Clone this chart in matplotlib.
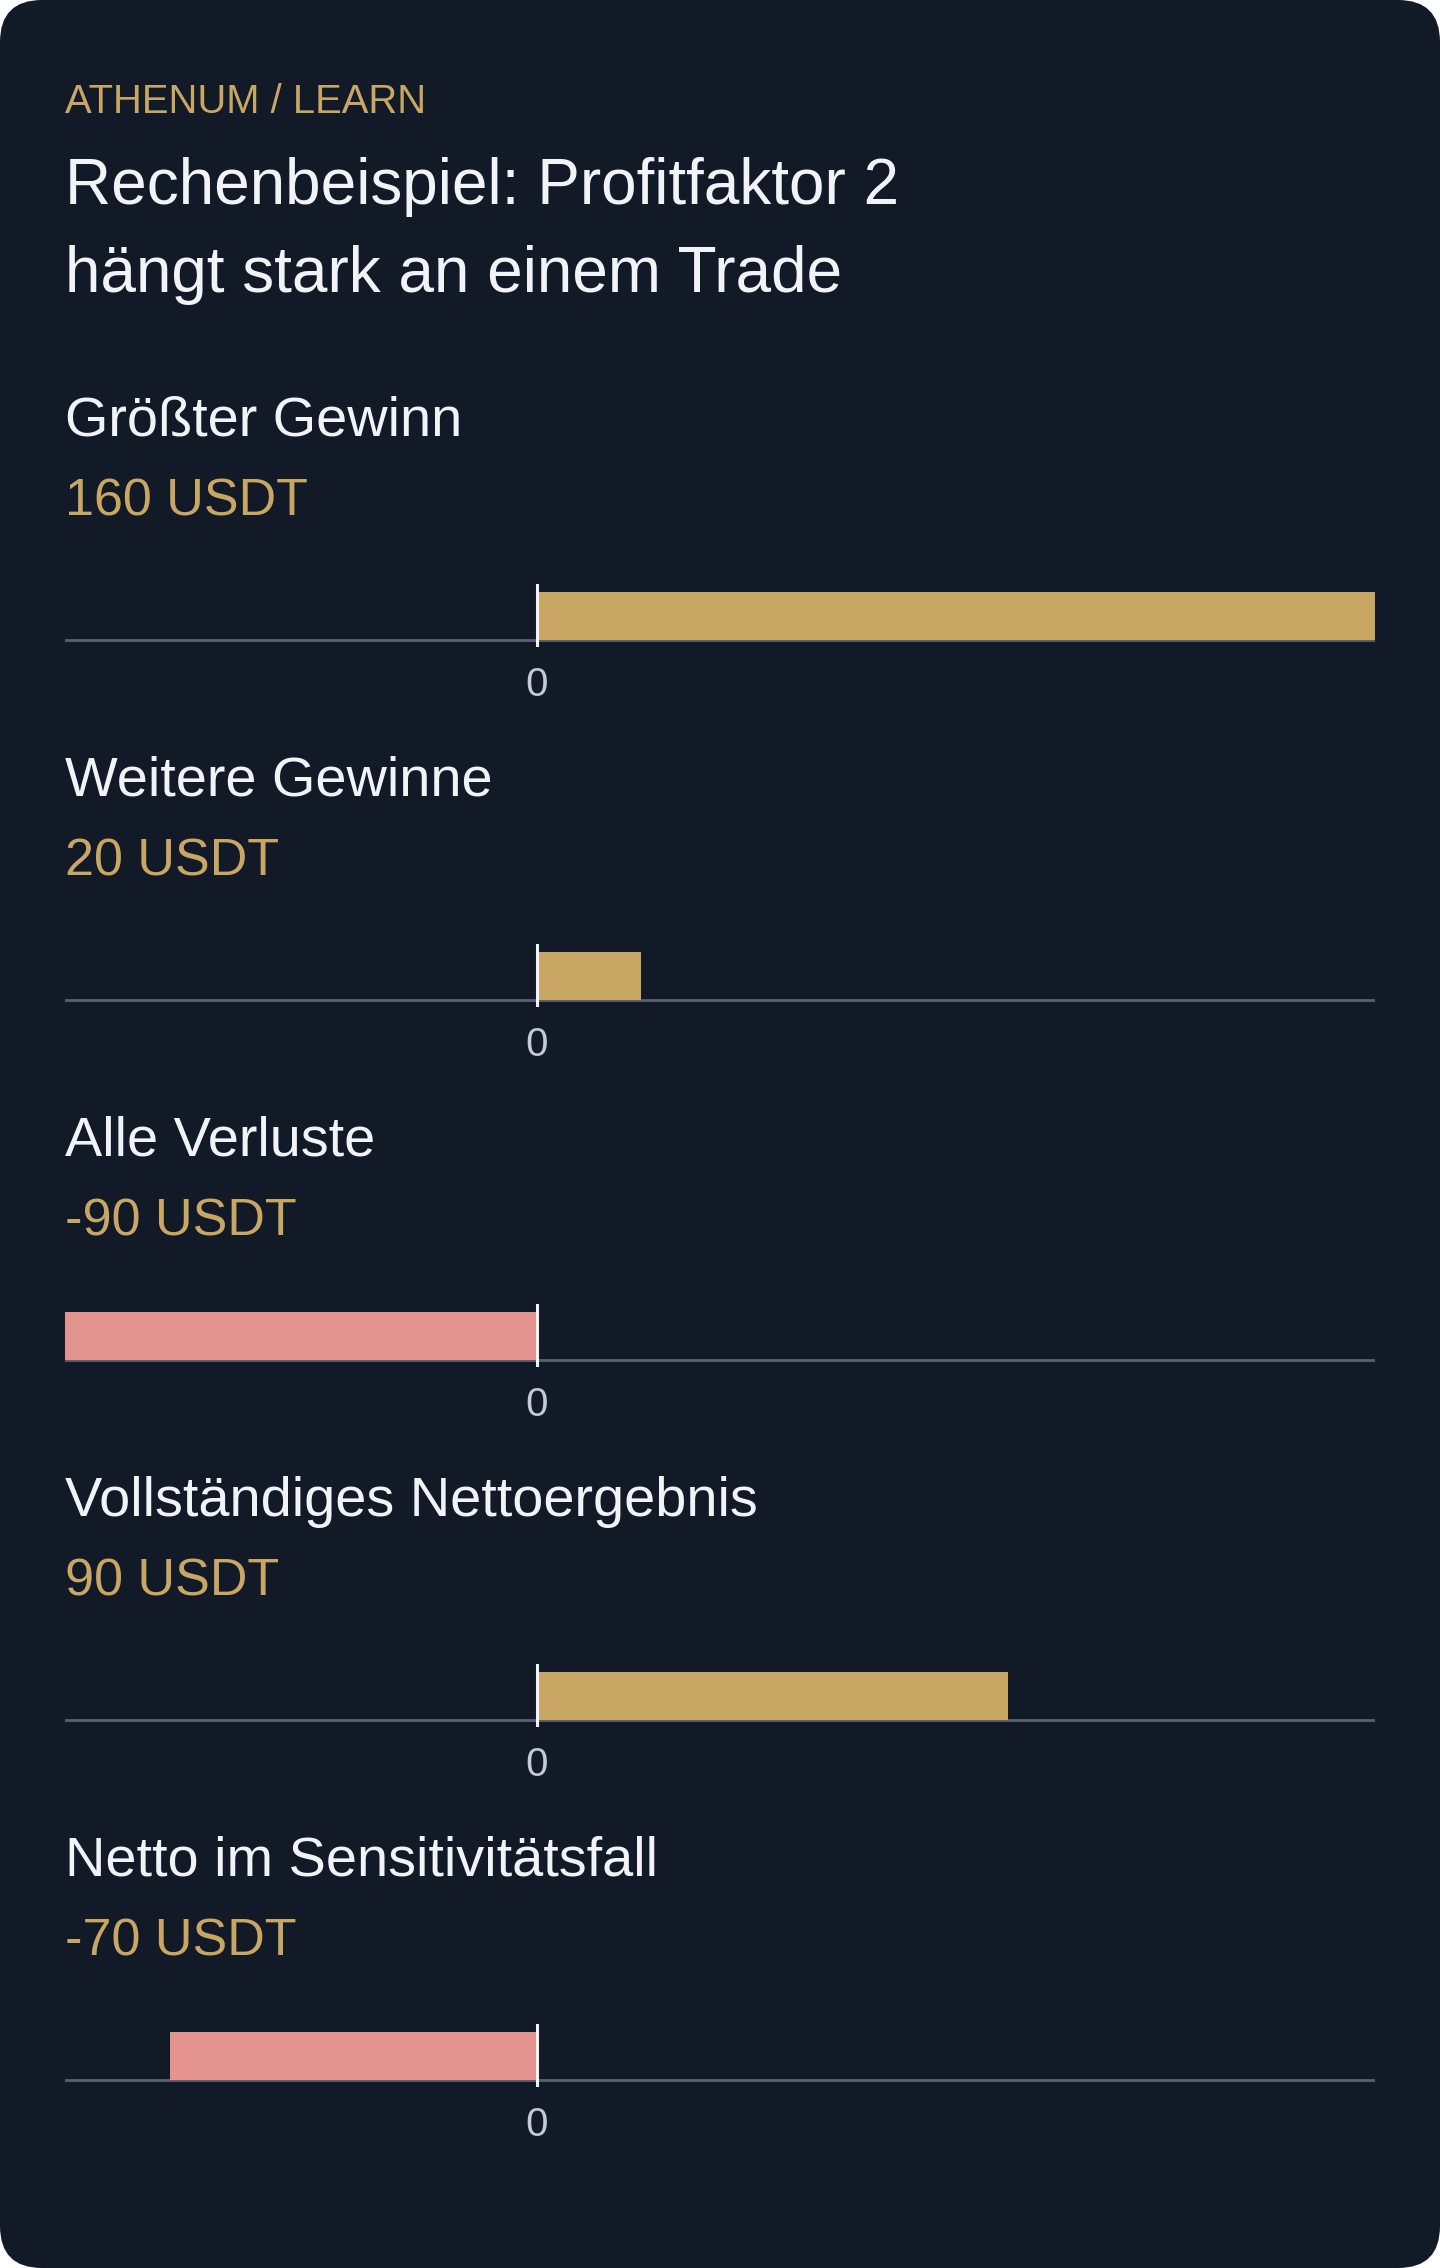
import matplotlib
matplotlib.use("Agg")
import matplotlib.pyplot as plt
from matplotlib.patches import FancyBboxPatch

# data
labels = ["Größter Gewinn", "Weitere Gewinne", "Alle Verluste",
          "Vollständiges Nettoergebnis", "Netto im Sensitivitätsfall"]
values = [160, 20, -90, 90, -70]
value_texts = ["160 USDT", "20 USDT", "-90 USDT", "90 USDT", "-70 USDT"]
xmin, xmax = -90, 160

W, H = 1440, 2268
BG = "#121927"
GOLD = "#C8A764"
RED = "#E4948E"
WHITE = "#F1F3F7"
GRID = "#566270"
TICK = "#C3CAD5"

plt.rcParams['font.family'] = ['Liberation Sans', 'DejaVu Sans']

fig = plt.figure(figsize=(W / 100, H / 100), dpi=100)
fig.patch.set_facecolor("white")
card = FancyBboxPatch((0, 0), W, H, boxstyle="round,pad=0,rounding_size=42",
                      transform=None, facecolor=BG, edgecolor="none", zorder=-10)
fig.patches.append(card)

def fy(px):
    return 1 - px / H

def fx(px):
    return px / W

left_px, right_px = 65, 1375

fig.text(fx(left_px), fy(113), "ATHENUM / LEARN", color=GOLD, fontsize=28.8, va="baseline")
fig.text(fx(left_px), fy(204), "Rechenbeispiel: Profitfaktor 2", color=WHITE, fontsize=46, va="baseline")
fig.text(fx(left_px), fy(292), "hängt stark an einem Trade", color=WHITE, fontsize=46, va="baseline")

for i, (lab, val, vt) in enumerate(zip(labels, values, value_texts)):
    off = 360 * i
    fig.text(fx(left_px), fy(436 + off), lab, color=WHITE, fontsize=40.2, va="baseline")
    fig.text(fx(left_px), fy(516 + off), vt, color=GOLD, fontsize=37.5, va="baseline")

    top, bot = 584 + off, 647 + off
    ax = fig.add_axes([fx(left_px), fy(bot), fx(right_px - left_px), (bot - top) / H])
    ax.set_facecolor("none")
    ax.barh(0, val, height=48, left=0, align="edge",
            color=GOLD if val >= 0 else RED, zorder=2)
    ax.axhline(0, color=GRID, lw=2, zorder=1)
    ax.axvline(0, color=WHITE, lw=2.2, zorder=3)
    ax.set_xlim(xmin, xmax)
    ax.set_ylim(-7, 56)
    ax.set_yticks([])
    ax.set_xticks([0])
    ax.set_xticklabels(["0"], color=TICK, fontsize=29)
    ax.tick_params(axis="x", length=0, pad=14)
    for s in ax.spines.values():
        s.set_visible(False)

fig.savefig("out.png", dpi=100, facecolor=fig.get_facecolor())
